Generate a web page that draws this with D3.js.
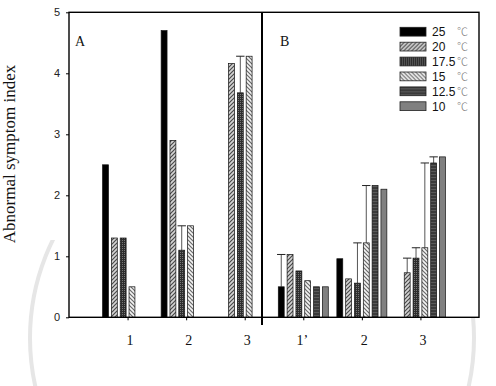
<!DOCTYPE html>
<html>
<head>
<meta charset="utf-8">
<script src="https://cdn.jsdelivr.net/npm/d3@7"></script>
<style>
  html, body { margin: 0; padding: 0; background: #fff; }
  svg { display: block; }
</style>
</head>
<body>
<div id="chart"></div>
<script>
// categories (left panel A: 1..3, right panel B: 1'..3)
const groups = ["1", "2", "3", "1’", "2", "3"];
const seriesNames = ["25", "20", "17.5", "15", "12.5", "10"];

// bar heights per temperature, one value per group (null = no bar)
const v25  = [2.5, 4.7, null, 0.5, 0.96, null];
const v20  = [1.3, 2.9, 4.16, 1.03, 0.63, 0.73];
const v175 = [1.3, 1.1, 3.68, 0.76, 0.56, 0.97];
const v15  = [0.5, 1.5, 4.28, 0.6, 1.22, 1.14];
const v125 = [null, null, null, 0.5, 2.16, 2.53];
const v10  = [null, null, null, 0.5, 2.1, 2.63];

// upper error (length above bar), 0 = none drawn
const e25  = [0, 0, 0, 0.53, 0, 0];
const e20  = [0, 0, 0, 0, 0, 0.24];
const e175 = [0, 0.4, 0.6, 0, 0.66, 0.17];
const e15  = [0, 0, 0, 0, 0.94, 1.39];
const e125 = [0, 0, 0, 0, 0, 0.1];
const e10  = [0, 0, 0, 0, 0, 0];

const yTicks = [0, 1, 2, 3, 4, 5];

const values = [v25, v20, v175, v15, v125, v10];
const errors = [e25, e20, e175, e15, e125, e10];

const W = 496, H = 386;
const mLeft = 69, mRight = 479, mTop = 12.3, mBottom = 317.3;

const svg = d3.select("#chart").append("svg")
  .attr("width", W).attr("height", H);

const defs = svg.append("defs");

// hatch patterns
function pat(id, size, bg, draw) {
  const p = defs.append("pattern").attr("id", id)
    .attr("patternUnits", "userSpaceOnUse").attr("width", size).attr("height", size);
  p.append("rect").attr("width", size).attr("height", size).attr("fill", bg);
  draw(p);
}
pat("p20", 4, "#d4d4d4", p => {
  p.append("path").attr("d", "M-1,1 l2,-2 M0,4 l4,-4 M3,5 l2,-2")
    .attr("stroke", "#4a4a4a").attr("stroke-width", 1.2);
});
pat("p175", 2, "#2e2e2e", p => {
  p.append("rect").attr("width", 1).attr("height", 1).attr("fill", "#777");
});
pat("p15", 4, "#f4f4f4", p => {
  p.append("path").attr("d", "M-1,3 l2,2 M0,0 l4,4 M3,-1 l2,2")
    .attr("stroke", "#6a6a6a").attr("stroke-width", 1.2);
});
pat("p125", 3, "#3a3a3a", p => {
  p.append("rect").attr("width", 3).attr("height", 1).attr("fill", "#5a5a5a");
});

const fills = ["#000", "url(#p20)", "url(#p175)", "url(#p15)", "url(#p125)", "#808080"];

// faint watermark ring behind the plot, only its lower part shows
defs.append("clipPath").attr("id", "wmclip")
  .append("rect").attr("x", 0).attr("y", 240).attr("width", W).attr("height", H - 240);
const wm = svg.append("g").attr("clip-path", "url(#wmclip)");
wm.append("circle").attr("cx", 252).attr("cy", 338).attr("r", 222)
  .attr("fill", "none").attr("stroke", "#e6e6e6").attr("stroke-width", 4);

// white plot area
svg.append("rect").attr("x", mLeft).attr("y", mTop)
  .attr("width", mRight - mLeft).attr("height", mBottom - mTop).attr("fill", "#fff");

const x = d3.scaleLinear().domain([0, 7]).range([mLeft, mRight]);
const y = d3.scaleLinear().domain([0, 5]).range([mBottom, mTop]);
const slot = d3.scaleBand().domain(d3.range(6)).range([-25, 25]).paddingInner(0.33);

const bars = [];
values.forEach((vals, s) => vals.forEach((v, g) => {
  if (v != null) bars.push({ s, g, v, e: errors[s][g] });
}));

// error bars (drawn first so bars sit on top of the stem)
const eb = svg.append("g").attr("stroke", "#555").attr("stroke-width", 1);
bars.filter(d => d.e > 0).forEach(d => {
  const cx = x(d.g + 1) + slot(d.s) + slot.bandwidth() / 2;
  eb.append("line").attr("x1", cx).attr("x2", cx).attr("y1", y(d.v)).attr("y2", y(d.v + d.e));
  eb.append("line").attr("x1", cx - 4.2).attr("x2", cx + 4.2)
    .attr("y1", y(d.v + d.e)).attr("y2", y(d.v + d.e)).attr("stroke", "#222");
});

svg.append("g").selectAll("rect").data(bars).join("rect")
  .attr("x", d => x(d.g + 1) + slot(d.s))
  .attr("y", d => y(d.v))
  .attr("width", slot.bandwidth())
  .attr("height", d => y(0) - y(d.v))
  .attr("fill", d => fills[d.s])
  .attr("stroke", "#111").attr("stroke-width", 0.7);

// frame
svg.append("rect").attr("x", mLeft).attr("y", mTop)
  .attr("width", mRight - mLeft).attr("height", mBottom - mTop)
  .attr("fill", "none").attr("stroke", "#000").attr("stroke-width", 1.4);

// y axis
const yAxis = svg.append("g").attr("transform", `translate(${mLeft},0)`)
  .call(d3.axisLeft(y).tickValues(yTicks).tickFormat(d3.format("d")).tickSize(3).tickPadding(6));
yAxis.select(".domain").remove();
yAxis.selectAll("text").attr("font-family", "Liberation Sans, Arial").attr("font-size", 11).attr("fill", "#222");

// x axis
const xAxis = svg.append("g").attr("transform", `translate(0,${mBottom})`)
  .call(d3.axisBottom(x).tickValues(d3.range(1, 7)).tickSize(3).tickFormat(""));
xAxis.select(".domain").remove();

svg.append("g").selectAll("text").data(groups).join("text")
  .attr("x", (d, i) => x(i + 1) + (i === 3 ? -1 : 2.5))
  .attr("y", 345)
  .attr("text-anchor", "middle")
  .attr("font-family", "Liberation Serif, Times New Roman")
  .attr("font-size", 14).attr("fill", "#111")
  .text(d => d);

// panel divider
svg.append("line").attr("x1", 262).attr("x2", 262).attr("y1", mTop).attr("y2", 325)
  .attr("stroke", "#000").attr("stroke-width", 2);

// panel labels
[["A", 75], ["B", 280]].forEach(([t, px]) => {
  svg.append("text").attr("x", px).attr("y", 46)
    .attr("font-family", "Liberation Serif, Times New Roman").attr("font-size", 14)
    .attr("fill", "#111").text(t);
});

// y title
svg.append("text")
  .attr("transform", "translate(15,154) rotate(-90)")
  .attr("text-anchor", "middle")
  .attr("font-family", "Liberation Serif, Times New Roman")
  .attr("font-size", 17).attr("fill", "#111")
  .text("Abnormal symptom index");

// legend
const lg = svg.append("g").selectAll("g").data(seriesNames).join("g")
  .attr("transform", (d, i) => `translate(400,${31.7 + i * 14.9})`);
lg.append("rect").attr("x", 0).attr("y", -4.4).attr("width", 26).attr("height", 8.8)
  .attr("fill", (d, i) => fills[i]).attr("stroke", "#222").attr("stroke-width", 0.8);
lg.append("text").attr("x", 32).attr("y", 4.3)
  .attr("font-family", "Liberation Sans, Arial").attr("font-size", 12).attr("fill", "#111")
  .text(d => d);
lg.append("text").attr("x", 57).attr("y", 4.3)
  .attr("font-family", "Noto Sans CJK SC").attr("font-weight", 300).attr("font-size", 11).attr("fill", "#777")
  .text("℃");
</script>
</body>
</html>
